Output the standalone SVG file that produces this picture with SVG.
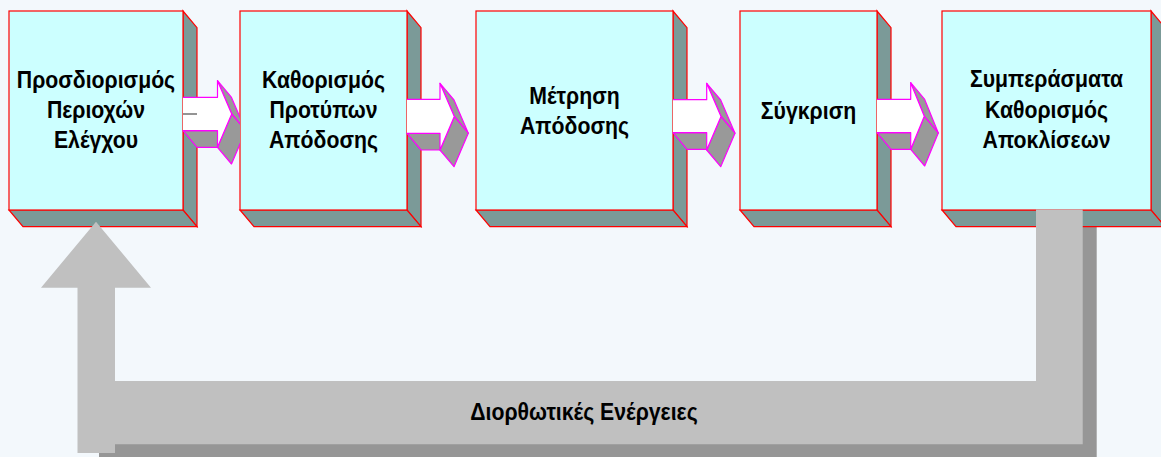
<svg xmlns="http://www.w3.org/2000/svg" width="1161" height="457" viewBox="0 0 1161 457">
<style>
.front{fill:#CCFFFF;stroke:#FF0000;stroke-width:1.2}
.side{fill:#7B9A98;stroke:#FF0000;stroke-width:1.2;stroke-linejoin:miter}
.facet{fill:#999999;stroke:#FF00FF;stroke-width:1.2;stroke-linejoin:round}
.aface{fill:#FFFFFF;stroke:none}
.aedge{fill:none;stroke:#FF00FF;stroke-width:1.2;stroke-linejoin:round}
.lbl{font-family:"Liberation Sans",Arial,sans-serif;font-weight:bold;font-size:24px;fill:#000000;text-anchor:middle}
.bar{fill:#C0C0C0}
.shadow{fill:#969696}
</style>
<defs>
<clipPath id="clipA1"><rect x="0" y="0" width="240" height="457"/></clipPath>
</defs>
<rect x="0" y="0" width="1161" height="457" fill="#F3F8FC"/>

<g id="feedback-shadow">
<polygon class="shadow" points="99,395 1050,395 1050,223.5 1096.7,223.5 1096.7,460 99,460"/>
</g>

<g id="node1">
<polygon class="side" points="183,11 197,27.7 197,226.7 183,210"/>
<polygon class="side" points="9,210 183,210 197,226.7 23,226.7"/>
<rect class="front" x="9" y="11" width="174" height="199"/>
<g transform="translate(96,0) scale(0.885,1)">
<text class="lbl" x="0" y="88">Προσδιορισμός</text>
<text class="lbl" x="0" y="118.5">Περιοχών</text>
<text class="lbl" x="0" y="148">Ελέγχου</text>
</g>
</g>

<g id="node2">
<polygon class="side" points="407,11 421,27.7 421,226.7 407,210"/>
<polygon class="side" points="240,210 407,210 421,226.7 254,226.7"/>
<rect class="front" x="240" y="11" width="167" height="199"/>
<g transform="translate(323.5,0) scale(0.885,1)">
<text class="lbl" x="0" y="88">Καθορισμός</text>
<text class="lbl" x="0" y="118">Προτύπων</text>
<text class="lbl" x="0" y="148">Απόδοσης</text>
</g>
</g>

<g id="node3">
<polygon class="side" points="673,11 687,27.7 687,226.7 673,210"/>
<polygon class="side" points="476,210 673,210 687,226.7 490,226.7"/>
<rect class="front" x="476" y="11" width="197" height="199"/>
<g transform="translate(574.5,0) scale(0.885,1)">
<text class="lbl" x="0" y="104">Μέτρηση</text>
<text class="lbl" x="0" y="134">Απόδοσης</text>
</g>
</g>

<g id="node4">
<polygon class="side" points="877,11 891,27.7 891,226.7 877,210"/>
<polygon class="side" points="740,210 877,210 891,226.7 754,226.7"/>
<rect class="front" x="740" y="11" width="137" height="199"/>
<g transform="translate(808.5,0) scale(0.885,1)">
<text class="lbl" x="0" y="119">Σύγκριση</text>
</g>
</g>

<g id="node5">
<polygon class="side" points="1151,11 1165,27.7 1165,226.7 1151,210"/>
<polygon class="side" points="942,210 1151,210 1165,226.7 956,226.7"/>
<rect class="front" x="942" y="11" width="209" height="199"/>
<g transform="translate(1046.5,0) scale(0.885,1)">
<text class="lbl" x="0" y="87.5">Συμπεράσματα</text>
<text class="lbl" x="0" y="118.5">Καθορισμός</text>
<text class="lbl" x="0" y="148">Αποκλίσεων</text>
</g>
</g>

<g id="connectors">
<g id="arrow1" clip-path="url(#clipA1)">
<polygon class="facet" points="183,130.7 217.5,130.7 231.5,147.4 197,147.4"/>
<polygon class="facet" points="217.5,80.7 231.7,114 245.7,130.7 231.5,97.4"/>
<polygon class="facet" points="231.7,114 245.7,130.7 231.5,164 217.5,147.3"/>
<polygon class="aface" points="183,97.3 217.5,97.3 217.5,80.7 231.7,114 217.5,147.3 217.5,130.7 183,130.7"/>
<polyline class="aedge" points="183,97.3 217.5,97.3 217.5,80.7 231.7,114 217.5,147.3 217.5,130.7 183,130.7"/>
<line x1="183" y1="114" x2="197" y2="114" stroke="#707070" stroke-width="1.5"/>
</g>
<g id="arrow2">
<polygon class="facet" points="407,133.3 440,133.3 454,150 421,150"/>
<polygon class="facet" points="440,83.3 454.3,116.5 468.3,133.2 454,100"/>
<polygon class="facet" points="454.3,116.5 468.3,133.2 454,166.7 440,150"/>
<polygon class="aface" points="407,99.3 440,99.3 440,83.3 454.3,116.5 440,150 440,133.3 407,133.3"/>
<polyline class="aedge" points="407,99.3 440,99.3 440,83.3 454.3,116.5 440,150 440,133.3 407,133.3"/>
</g>
<g id="arrow3">
<polygon class="facet" points="673,132.7 706.7,132.7 720.7,149.4 687,149.4"/>
<polygon class="facet" points="706.7,83.3 721,116.5 735,133.2 720.7,100"/>
<polygon class="facet" points="721,116.5 735,133.2 720.7,166.7 706.7,150"/>
<polygon class="aface" points="673,99.7 706.7,99.7 706.7,83.3 721,116.5 706.7,150 706.7,132.7 673,132.7"/>
<polyline class="aedge" points="673,99.7 706.7,99.7 706.7,83.3 721,116.5 706.7,150 706.7,132.7 673,132.7"/>
</g>
<g id="arrow4">
<polygon class="facet" points="877,132.7 910.7,132.7 924.7,149.4 891,149.4"/>
<polygon class="facet" points="910.7,82.7 924.3,116.3 938.3,133 924.7,99.4"/>
<polygon class="facet" points="924.3,116.3 938.3,133 924.7,166 910.7,149.3"/>
<polygon class="aface" points="877,99.3 910.7,99.3 910.7,82.7 924.3,116.3 910.7,149.3 910.7,132.7 877,132.7"/>
<polyline class="aedge" points="877,99.3 910.7,99.3 910.7,82.7 924.3,116.3 910.7,149.3 910.7,132.7 877,132.7"/>
</g>
<g id="feedback">
<polygon class="bar" points="85,381 1036,381 1036,209.5 1082.7,209.5 1082.7,444.3 85,444.3"/>
<polygon class="bar" points="96,221.7 151,287.7 115,287.7 115,453 77.5,453 77.5,287.7 41,287.7"/>
<g transform="translate(584,0) scale(0.885,1)">
<text class="lbl" x="0" y="420">Διορθωτικές Ενέργειες</text>
</g>
</g>
</g>
</svg>
